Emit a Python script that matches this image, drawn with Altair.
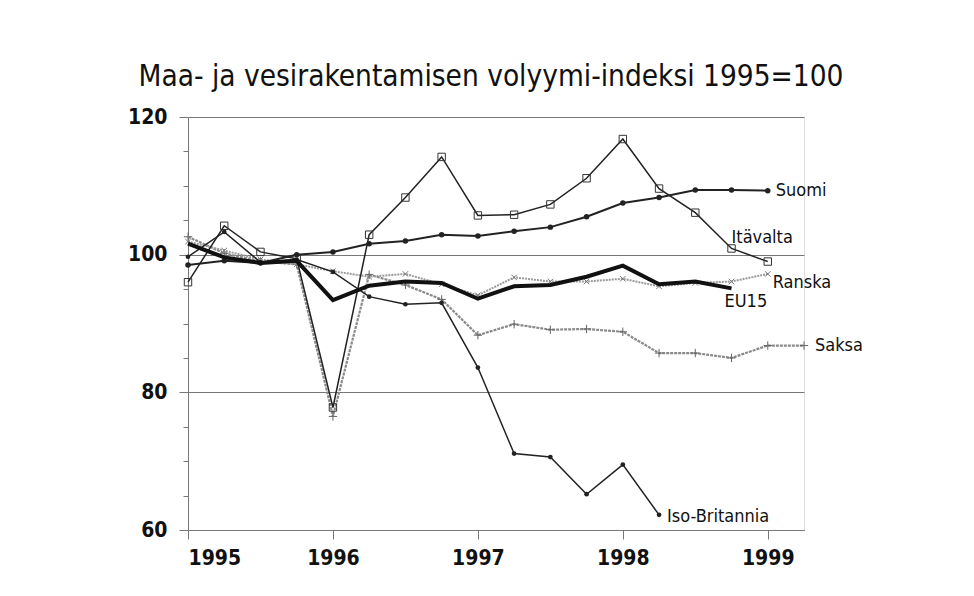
import altair as alt
import pandas as pd

quarters = [1995.0, 1995.25, 1995.5, 1995.75, 1996.0, 1996.25, 1996.5, 1996.75,
            1997.0, 1997.25, 1997.5, 1997.75, 1998.0, 1998.25, 1998.5, 1998.75,
            1999.0, 1999.25]

suomi = [98.5, 99.1, 98.8, 100.0, 100.4, 101.6, 102.0, 102.9, 102.7, 103.4, 104.0,
         105.5, 107.5, 108.3, 109.4, 109.4, 109.3]
itavalta = [96.0, 104.2, 100.4, 99.4, 77.8, 102.9, 108.3, 114.2, 105.7, 105.8, 107.3,
            111.1, 116.8, 109.6, 106.1, 100.9, 99.0]
ranska = [101.9, 100.6, 99.3, 98.6, 97.6, 96.8, 97.2, 95.7, 94.1, 96.7, 96.1, 96.1,
          96.5, 95.4, 95.9, 96.1, 97.2]
eu15 = [101.6, 99.6, 98.8, 99.1, 93.4, 95.5, 96.1, 95.9, 93.6, 95.4, 95.6, 96.8, 98.4,
        95.7, 96.1, 95.1]
saksa = [102.6, 100.2, 99.0, 98.6, 76.5, 97.1, 95.6, 93.5, 88.3, 89.9, 89.1, 89.2,
         88.8, 85.7, 85.7, 85.0, 86.8, 86.8]
iso_britannia = [99.7, 103.3, 98.9, 99.3, 97.5, 93.9, 92.8, 93.0, 83.6, 71.1, 70.6,
                 65.2, 69.5, 62.2]

series = {
    "Suomi": suomi,
    "Itävalta": itavalta,
    "Ranska": ranska,
    "EU15": eu15,
    "Saksa": saksa,
    "Iso-Britannia": iso_britannia,
}

year_ticks = [1995, 1996, 1997, 1998, 1999]
y_ticks = [60, 65, 70, 75, 80, 85, 90, 95, 100, 105, 110, 115, 120]

FONT = "DejaVu Sans Condensed, Roboto, sans-serif"

def frame(name):
    vals = series[name]
    return pd.DataFrame({"x": quarters[:len(vals)], "v": vals, "s": name})

xscale = alt.Scale(domain=[1995, 1999.25], nice=False, zero=False)
yscale = alt.Scale(domain=[60, 120], nice=False, zero=False)

xax = alt.Axis(values=year_ticks, format="d", title=None, grid=False,
               tickSize=9, tickColor="#777", domainColor="#777",
               labelFont=FONT, labelFontSize=21, labelColor="#111",
               labelPadding=8, labelFontWeight="bold")
yax = alt.Axis(values=y_ticks, title=None,
               grid=True,
               gridOpacity={"condition": {"test": "datum.value % 20 === 0", "value": 1}, "value": 0},
               gridColor="#777",
               tickSize={"condition": {"test": "datum.value % 20 === 0", "value": 9}, "value": 5},
               tickColor="#777", domainColor="#777",
               labelExpr="datum.value % 20 === 0 ? datum.label : ''",
               labelFont=FONT, labelFontSize=21, labelColor="#111",
               labelPadding=12, labelFontWeight="bold")

X = alt.X("x:Q", scale=xscale, axis=xax)
Y = alt.Y("v:Q", scale=yscale, axis=yax)

layers = []

def line(name, color, width, dash=None):
    kw = dict(color=color, strokeWidth=width, clip=False)
    if dash:
        kw["strokeDash"] = dash
    return alt.Chart(frame(name)).mark_line(**kw).encode(x=X, y=Y)

def pts(name, shape, size, filled, color, sw=1.2):
    return alt.Chart(frame(name)).mark_point(shape=shape, size=size, filled=filled,
                                             color=color, strokeWidth=sw, opacity=1).encode(x=X, y=Y)

PLUS = "M-1,0L1,0M0,-1L0,1"
XSHAPE = "M-1,-1L1,1M-1,1L1,-1"

layers += [
    line("Saksa", "#8a8a8a", 2.2, [3, 1]),
    pts("Saksa", PLUS, 70, False, "#666", 1),
    line("Ranska", "#9a9a9a", 2.0, [2, 1]),
    pts("Ranska", XSHAPE, 30, False, "#777", 1),
    line("Itävalta", "#222", 1.5),
    pts("Itävalta", "square", 55, False, "#333", 1),
    line("Iso-Britannia", "#222", 1.5),
    pts("Iso-Britannia", "circle", 22, True, "#222"),
    line("Suomi", "#222", 2.0),
    pts("Suomi", "circle", 30, True, "#222"),
    line("EU15", "#111", 4.0),
]

# labels anchored at a series point
label_specs = [
    ("Suomi", -1, 8, 0),
    ("Itävalta", -2, 0, -10),
    ("Ranska", -1, 5, 9),
    ("EU15", -1, -7, 14),
    ("Saksa", -1, 11, 0),
    ("Iso-Britannia", -1, 8, 2),
]
for name, idx, dx, dy in label_specs:
    vals = series[name]
    i = idx % len(vals)
    df = pd.DataFrame({"x": [quarters[i]], "v": [vals[i]], "t": [name]})
    layers.append(
        alt.Chart(df).mark_text(align="left", baseline="middle", dx=dx, dy=dy,
                                font=FONT, fontSize=18, color="#111")
        .encode(x=X, y=Y, text="t:N")
    )

chart = alt.layer(*layers).properties(
    width=616, height=413,
    padding={"left": 180, "top": 109, "right": 150, "bottom": 50},
    autosize=alt.AutoSizeParams(type="none"),
    title=alt.TitleParams(
        "Maa- ja vesirakentamisen volyymi-indeksi 1995=100",
        font=FONT, fontSize=29.5, fontWeight="normal", color="#111",
        anchor="middle", offset=14, dx=-5,
    ),
).configure_view(stroke=None).configure(background="white")

chart.save("out.html", embed_options={"renderer": "svg", "actions": False})
